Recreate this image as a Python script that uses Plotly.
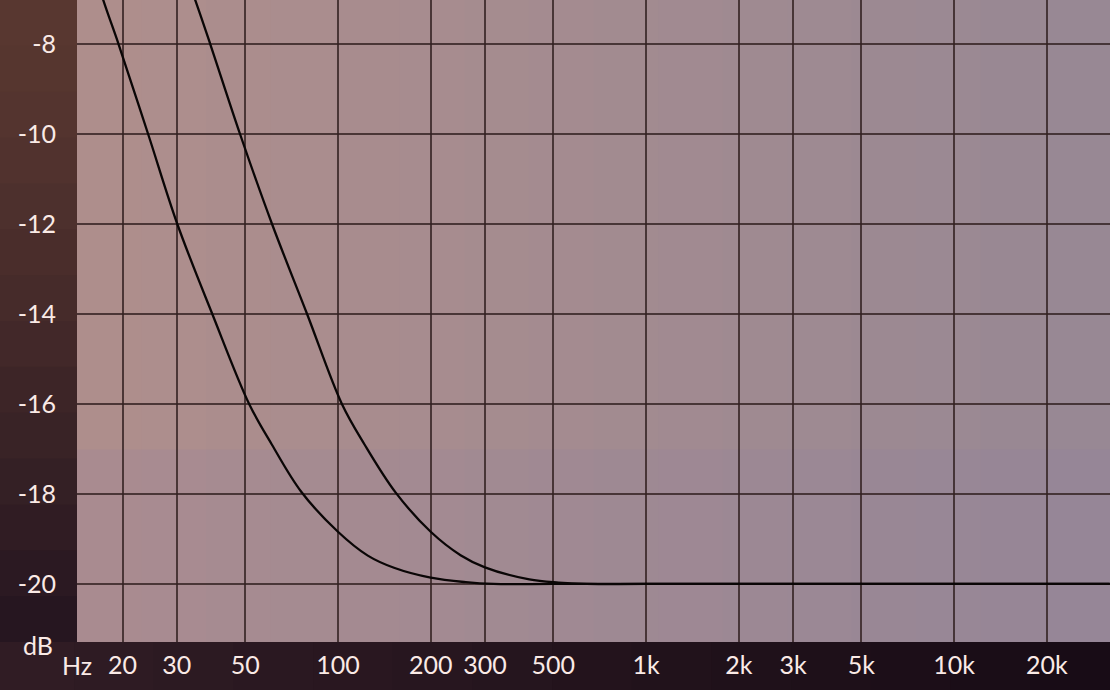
import plotly.graph_objects as go

# ---- data ----
freq_a = [14, 17.3, 19.4, 24.2, 30.1, 39.1, 51.5, 61, 76, 100, 125, 152, 200, 260, 320, 500, 1000, 32000]
gain_a = [-5.0, -7.02, -8.0, -10.0, -12.0, -14.0, -16.0, -16.9, -17.95, -18.84, -19.37, -19.64, -19.86, -19.96, -20.0, -20.0, -20.0, -20.0]

freq_b = [30, 34.4, 38.5, 48.1, 61.1, 79.4, 103, 122, 154, 200, 250, 300, 418, 520, 640, 1000, 32000]
gain_b = [-5.9, -7.02, -8.0, -10.0, -12.0, -14.0, -16.0, -16.9, -17.97, -18.84, -19.36, -19.63, -19.9, -19.97, -20.0, -20.0, -20.0]

x_tickvals = [20, 30, 50, 100, 200, 300, 500, 1000, 2000, 3000, 5000, 10000, 20000]
x_ticktext = ["20", "30", "50", "100", "200", "300", "500", "1k", "2k", "3k", "5k", "10k", "20k"]
y_tickvals = [-8, -10, -12, -14, -16, -18, -20]
y_ticktext = ["-8", "-10", "-12", "-14", "-16", "-18", "-20"]

label_color = "rgb(250,234,230)"
font_family = "Lato"
font_size = 25

fig = go.Figure()
for fx, gy in ((freq_a, gain_a), (freq_b, gain_b)):
    fig.add_trace(go.Scatter(x=fx, y=gy, mode="lines",
                             line=dict(color="#0a0606", width=2.3, shape="spline", smoothing=1.0),
                             hoverinfo="skip"))


def lerp(c1, c2, t):
    return tuple(int(round(a + (b - a) * t)) for a, b in zip(c1, c2))


shapes = []
# left margin: vertical gradient brown (top) -> dark purple (bottom)
n = 14
for i in range(n):
    t = i / (n - 1)
    c = lerp((88, 55, 48), (38, 22, 32), t ** 1.3)
    y1 = 1 - i / n
    y0 = 1 - (i + 1) / n - 0.002
    shapes.append(dict(type="rect", xref="paper", yref="paper", x0=-0.08, x1=0, y0=y0, y1=y1,
                       fillcolor="rgb(%d,%d,%d)" % c, line=dict(width=0), layer="below"))
# bottom strip: horizontal gradient
for i in range(n):
    t = i / (n - 1)
    c = lerp((48, 28, 36), (24, 12, 22), t)
    x0 = -0.08 + i * 1.08 / n
    x1 = -0.08 + (i + 1) * 1.08 / n + 0.002
    shapes.append(dict(type="rect", xref="paper", yref="paper", x0=x0, x1=x1, y0=-0.1, y1=0,
                       fillcolor="rgb(%d,%d,%d)" % c, line=dict(width=0), layer="below"))
# plot area: warm left -> cool right
m = 16
for i in range(m):
    t = i / (m - 1)
    c = lerp((174, 142, 140), (152, 136, 148), t)
    shapes.append(dict(type="rect", xref="paper", yref="paper", x0=i / m, x1=(i + 1) / m + 0.002, y0=0, y1=1,
                       fillcolor="rgb(%d,%d,%d)" % c, line=dict(width=0), layer="below"))
# slightly cooler lower band
shapes.append(dict(type="rect", xref="paper", yref="paper", x0=0, x1=1, y0=0, y1=0.3,
                   fillcolor="rgba(140,130,165,0.15)", line=dict(width=0), layer="below"))

axis_common = dict(
    showgrid=True, gridcolor="rgba(50,32,32,0.8)", gridwidth=2,
    zeroline=False, showline=False, ticks="", automargin=False,
)

fig.update_layout(
    width=1110, height=690,
    margin=dict(l=77, r=0, t=0, b=48, pad=0),
    paper_bgcolor="rgb(60,38,40)",
    plot_bgcolor="rgb(162,139,144)",
    showlegend=False,
    shapes=shapes,
    font=dict(family=font_family, color=label_color, size=font_size),
    xaxis=dict(
        type="log", range=[1.153, 4.506],
        tickvals=x_tickvals, ticktext=x_ticktext,
        ticklabelstandoff=6,
        tickfont=dict(family=font_family, size=font_size, color=label_color),
        **axis_common,
    ),
    yaxis=dict(
        range=[-21.29, -7.022],
        tickvals=y_tickvals, ticktext=y_ticktext,
        ticklabelstandoff=20,
        tickfont=dict(family=font_family, size=font_size, color=label_color),
        **axis_common,
    ),
    annotations=[
        dict(text="Hz", xref="paper", yref="paper", x=0.0, y=-0.036, xanchor="center", yanchor="middle",
             showarrow=False, font=dict(family=font_family, size=font_size, color=label_color)),
        dict(text="dB", xref="paper", yref="paper", x=-0.038, y=-0.004, xanchor="center", yanchor="middle",
             showarrow=False, font=dict(family=font_family, size=font_size, color=label_color)),
    ],
)

fig.write_html("out.html", config={"displayModeBar": False, "staticPlot": True},
               post_script="document.body.style.margin='0';document.body.style.overflow='hidden';")
